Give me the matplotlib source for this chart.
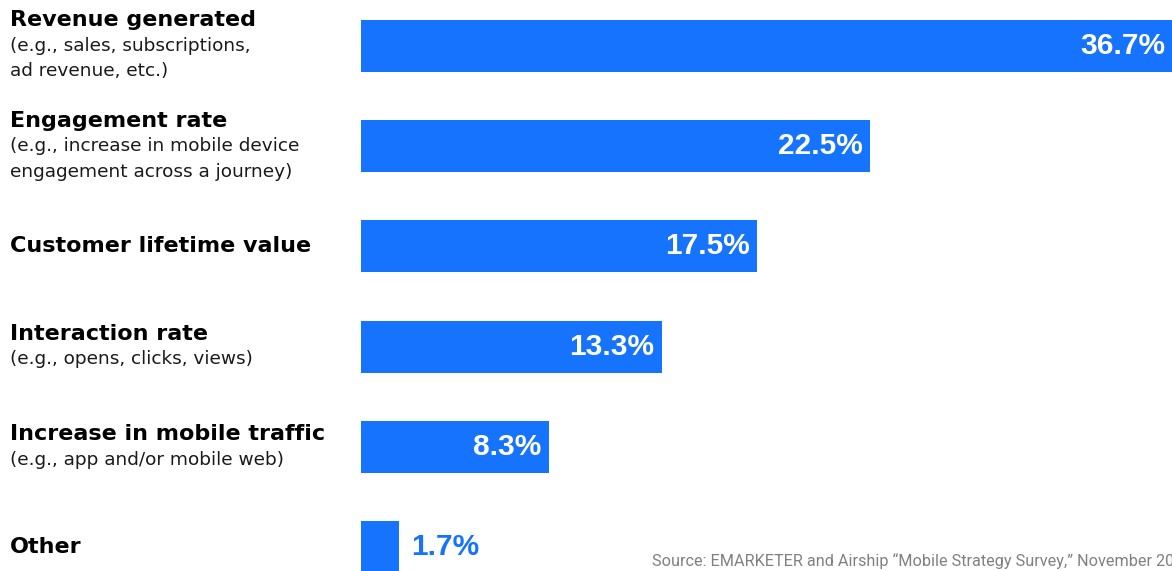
import matplotlib
matplotlib.use('agg')
import matplotlib.pyplot as plt
from matplotlib.transforms import blended_transform_factory

# data
titles = ["Revenue generated", "Engagement rate", "Customer lifetime value",
          "Interaction rate", "Increase in mobile traffic", "Other"]
subtitles = [["(e.g., sales, subscriptions,", "ad revenue, etc.)"],
             ["(e.g., increase in mobile device", "engagement across a journey)"],
             [],
             ["(e.g., opens, clicks, views)"],
             ["(e.g., app and/or mobile web)"],
             []]
values = [36.7, 22.5, 17.5, 13.3, 8.3, 1.7]
source = "Source: EMARKETER and Airship \u201cMobile Strategy Survey,\u201d November 2023"

blue = "#1573fe"
W, H = 1172, 571
fig = plt.figure(figsize=(W / 100, H / 100), dpi=100)
# axes from bar start (x=361px) to right edge, full height
ax = fig.add_axes([361 / W, 0, 1 - 361 / W, 1])
pitch = 100.2
ax.set_ylim((H - 46) / pitch, -46 / pitch)
xmax = 811 / 22.6
ax.set_xlim(0, xmax)
ax.axis('off')

ys = list(range(len(values)))
ax.barh(ys, values, height=52 / pitch, color=blue, clip_on=True)

# value labels
px = xmax / 811.0
for y, v in zip(ys, values):
    if v > 5:
        xe = min(v, xmax) - 7 * px
        ax.text(xe, y, f"{v}%", ha='right', va='center', color='white',
                fontsize=21.5, fontweight='bold', family='Liberation Sans')
    else:
        ax.text(v + 12 * px, y, f"{v}%", ha='left', va='center', color=blue,
                fontsize=21.5, fontweight='bold', family='Liberation Sans')

# category labels on the left
tr = blended_transform_factory(ax.transAxes, ax.transData)
lx = (10 - 361) / 811
step = 25.5 / pitch
for y, t, subs in zip(ys, titles, subtitles):
    n = 1 + len(subs)
    top = y - step * (n - 1) / 2
    ax.text(lx, top, t, transform=tr, ha='left', va='center', fontsize=16,
            fontweight='bold', family='DejaVu Sans', color='black')
    for k, s in enumerate(subs):
        ax.text(lx, top + step * (k + 1), s, transform=tr, ha='left', va='center',
                fontsize=13.3, family='DejaVu Sans', color='#1a1a1a')

fig.text(652 / W, 1 - 561 / H, source, ha='left', va='center', fontsize=11.7,
         family='Roboto', color='#808080')

fig.savefig('out.png', dpi=100)
